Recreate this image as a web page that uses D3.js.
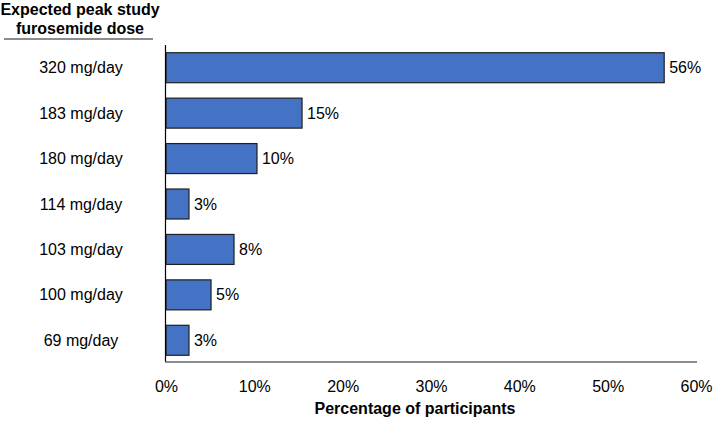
<!DOCTYPE html>
<html>
<head>
<meta charset="utf-8">
<script src="https://cdn.jsdelivr.net/npm/d3@7"></script>
<style>
  html, body { margin: 0; padding: 0; background: #fff; }
  svg { display: block; font-family: "Liberation Sans", Arial, sans-serif; }
</style>
</head>
<body>
<svg id="chart" width="714" height="425"></svg>
<script>
const categories = ["320 mg/day", "183 mg/day", "180 mg/day", "114 mg/day", "103 mg/day", "100 mg/day", "69 mg/day"];
const values = [56.4, 15.4, 10.3, 2.6, 7.7, 5.1, 2.6];
const valueLabels = ["56%", "15%", "10%", "3%", "8%", "5%", "3%"];
const xTicks = [0, 10, 20, 30, 40, 50, 60];
const headerLines = ["Expected peak study", "furosemide dose"];
const xTitle = "Percentage of participants";

const svg = d3.select("#chart");
const x = d3.scaleLinear().domain([0, 60]).range([166, 696]);
const y = d3.scaleBand().domain(categories).range([45, 363]).paddingInner(0.34).paddingOuter(0.17);

// header
svg.append("g").selectAll("text").data(headerLines).join("text")
  .attr("x", 80).attr("y", (d, i) => 15 + i * 18.5)
  .attr("text-anchor", "middle").attr("font-size", 16).attr("font-weight", "bold")
  .attr("fill", "#000").text(d => d);
svg.append("line").attr("x1", 4).attr("x2", 153).attr("y1", 39).attr("y2", 39)
  .attr("stroke", "#8c8c8c").attr("stroke-width", 2);

// bars
svg.append("g").selectAll("rect").data(values).join("rect")
  .attr("x", x(0))
  .attr("y", (d, i) => y(categories[i]))
  .attr("width", d => x(d) - x(0))
  .attr("height", y.bandwidth())
  .attr("fill", "#4472C4").attr("stroke", "#1f1f1f").attr("stroke-width", 1.2);

// value labels
svg.append("g").selectAll("text").data(values).join("text")
  .attr("x", d => x(d) + 5)
  .attr("y", (d, i) => y(categories[i]) + y.bandwidth() / 2)
  .attr("dy", "0.35em").attr("font-size", 16).attr("fill", "#000")
  .text((d, i) => valueLabels[i]);

// category labels
svg.append("g").selectAll("text").data(categories).join("text")
  .attr("x", 81).attr("y", d => y(d) + y.bandwidth() / 2)
  .attr("dy", "0.35em").attr("text-anchor", "middle").attr("font-size", 16).attr("fill", "#000")
  .text(d => d);

// axes
svg.append("line").attr("x1", 165.5).attr("x2", 165.5).attr("y1", 45).attr("y2", 362)
  .attr("stroke", "#000").attr("stroke-width", 1.2);
const xAxis = d3.axisBottom(x).tickValues(xTicks).tickFormat(d => d + "%").tickSize(0).tickPadding(0);
const gx = svg.append("g").attr("transform", "translate(0,362)").call(xAxis);
gx.select(".domain").attr("stroke", "#666").attr("stroke-width", 1.6).attr("d", `M${x(0) - 1},0H${x(60) + 1}`);
gx.selectAll("text").attr("font-size", 16).attr("fill", "#000")
  .attr("font-family", "Liberation Sans, Arial, sans-serif").attr("y", 24).attr("dy", "0.35em");

svg.append("text").attr("x", 415).attr("y", 414).attr("text-anchor", "middle")
  .attr("font-size", 16).attr("font-weight", "bold").attr("fill", "#000").text(xTitle);
</script>
</body>
</html>
